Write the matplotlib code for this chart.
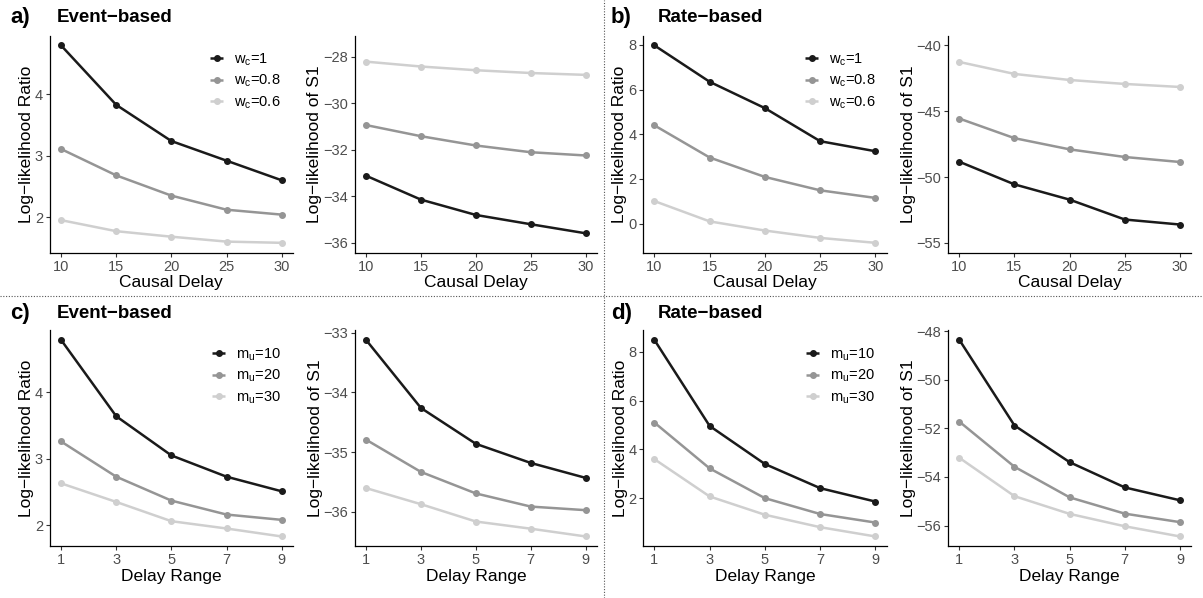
import matplotlib
matplotlib.use("Agg")
import matplotlib.pyplot as plt
from matplotlib.lines import Line2D

plt.rcParams['font.family'] = ['Liberation Sans', 'DejaVu Sans']

# x values
delay = [10, 15, 20, 25, 30]
delay_range = [1, 3, 5, 7, 9]

# a) event-based, varying causal strength w_c
a_llr_w1 = [4.80, 3.83, 3.24, 2.92, 2.60]
a_llr_w08 = [3.11, 2.68, 2.35, 2.12, 2.04]
a_llr_w06 = [1.95, 1.77, 1.68, 1.60, 1.58]
a_s1_w1 = [-33.11, -34.14, -34.80, -35.20, -35.59]
a_s1_w08 = [-30.93, -31.41, -31.81, -32.10, -32.24]
a_s1_w06 = [-28.20, -28.41, -28.57, -28.69, -28.77]

# b) rate-based, varying causal strength w_c
b_llr_w1 = [7.98, 6.35, 5.17, 3.69, 3.24]
b_llr_w08 = [4.40, 2.96, 2.09, 1.49, 1.15]
b_llr_w06 = [1.01, 0.10, -0.31, -0.64, -0.86]
b_s1_w1 = [-48.84, -50.56, -51.72, -53.23, -53.61]
b_s1_w08 = [-45.56, -47.05, -47.90, -48.48, -48.86]
b_s1_w06 = [-41.26, -42.17, -42.63, -42.93, -43.16]

# c) event-based, varying m_u
c_llr_m10 = [4.79, 3.64, 3.05, 2.73, 2.51]
c_llr_m20 = [3.26, 2.73, 2.37, 2.16, 2.08]
c_llr_m30 = [2.63, 2.35, 2.06, 1.95, 1.83]
c_s1_m10 = [-33.12, -34.26, -34.86, -35.18, -35.43]
c_s1_m20 = [-34.79, -35.33, -35.69, -35.91, -35.97]
c_s1_m30 = [-35.60, -35.87, -36.16, -36.28, -36.41]

# d) rate-based, varying m_u
d_llr_m10 = [8.49, 4.96, 3.40, 2.41, 1.86]
d_llr_m20 = [5.10, 3.22, 2.00, 1.35, 1.00]
d_llr_m30 = [3.60, 2.07, 1.32, 0.81, 0.43]
d_s1_m10 = [-48.35, -51.88, -53.39, -54.43, -54.96]
d_s1_m20 = [-51.72, -53.58, -54.84, -55.51, -55.86]
d_s1_m30 = [-53.21, -54.79, -55.52, -56.03, -56.45]

wc_labels = ['w$_\\mathregular{c}$=1', 'w$_\\mathregular{c}$=0.8', 'w$_\\mathregular{c}$=0.6']
mu_labels = ['m$_\\mathregular{u}$=10', 'm$_\\mathregular{u}$=20', 'm$_\\mathregular{u}$=30']
shades = ['#1a1a1a', '#959595', '#cfcfcf']

W, H = 1203, 598
fig = plt.figure(figsize=(W / 100, H / 100), dpi=100)

cols = [(50, 292.7), (355, 596.7), (643.3, 886.5), (948.3, 1191)]
rows = [(35.5, 252.7), (330, 546.3)]


def expand(lo, hi, f=0.05):
    d = (hi - lo) * f
    return lo - d, hi + d


def panel(col, row, x, series, xlabel, ylabel, yticks, ylim=None,
          labels=None, leg_xy=None):
    x0, x1 = cols[col]
    top, bot = rows[row]
    ax = fig.add_axes([x0 / W, 1 - bot / H, (x1 - x0) / W, (bot - top) / H])
    for ys, c, lab in zip(series[::-1], shades[::-1], (labels or [None] * 3)[::-1]):
        ax.plot(x, ys, color=c, lw=1.8, marker='o', ms=4, label=lab,
                solid_capstyle='butt')
    ax.set_xlim(*expand(min(x), max(x)))
    if ylim is None:
        allv = [v for s in series for v in s]
        ylim = (min(allv), max(allv))
    ax.set_ylim(*expand(*ylim))
    ax.set_xticks(x)
    ax.set_yticks(yticks)
    for s in ['top', 'right']:
        ax.spines[s].set_visible(False)
    for s in ['left', 'bottom']:
        ax.spines[s].set_linewidth(0.9)
    ax.tick_params(length=3, width=0.8, color='#333333', labelsize=10.5,
                   labelcolor='#4d4d4d', pad=2)
    ax.set_xlabel(xlabel, fontsize=12.5, labelpad=1)
    ax.set_ylabel(ylabel, fontsize=12.5, labelpad=0.5)
    if labels is not None:
        h, l = ax.get_legend_handles_labels()
        ax.legend(h[::-1], l[::-1], loc='center left',
                  bbox_to_anchor=(leg_xy[0] / W, 1 - leg_xy[1] / H),
                  bbox_transform=fig.transFigure, frameon=False,
                  fontsize=10.5, handlelength=0.9, handletextpad=0.75,
                  labelspacing=0.35, borderpad=0, borderaxespad=0)
    return ax


llr = 'Log\u2212likelihood Ratio'
s1 = 'Log\u2212likelihood of S1'

panel(0, 0, delay, [a_llr_w1, a_llr_w08, a_llr_w06], 'Causal Delay', llr,
      [2, 3, 4], labels=wc_labels, leg_xy=(210, 81))
panel(1, 0, delay, [a_s1_w1, a_s1_w08, a_s1_w06], 'Causal Delay', s1,
      [-36, -34, -32, -30, -28], ylim=(-36, -27.5))
panel(2, 0, delay, [b_llr_w1, b_llr_w08, b_llr_w06], 'Causal Delay', llr,
      [0, 2, 4, 6, 8], labels=wc_labels, leg_xy=(805, 81))
panel(3, 0, delay, [b_s1_w1, b_s1_w08, b_s1_w06], 'Causal Delay', s1,
      [-55, -50, -45, -40], ylim=(-55, -40))
panel(0, 1, delay_range, [c_llr_m10, c_llr_m20, c_llr_m30], 'Delay Range', llr,
      [2, 3, 4], labels=mu_labels, leg_xy=(212, 376))
panel(1, 1, delay_range, [c_s1_m10, c_s1_m20, c_s1_m30], 'Delay Range', s1,
      [-36, -35, -34, -33])
panel(2, 1, delay_range, [d_llr_m10, d_llr_m20, d_llr_m30], 'Delay Range', llr,
      [2, 4, 6, 8], labels=mu_labels, leg_xy=(806, 376))
panel(3, 1, delay_range, [d_s1_m10, d_s1_m20, d_s1_m30], 'Delay Range', s1,
      [-56, -54, -52, -50, -48])

# panel tags and titles
tags = [('a)', 'Event\u2212based', 10, 18), ('b)', 'Rate\u2212based', 611, 18),
        ('c)', 'Event\u2212based', 10, 313), ('d)', 'Rate\u2212based', 611, 313)]
for tag, title, tx, ty in tags:
    fig.text(tx / W, 1 - ty / H, tag, fontsize=16, fontweight='bold', va='center')
    fig.text((tx + 47) / W, 1 - ty / H, title, fontsize=13.5, fontweight='bold',
             va='center')

# dotted separators between the four blocks
fig.add_artist(Line2D([0, 1], [1 - 296 / H] * 2, transform=fig.transFigure,
                      color='#555555', lw=0.8, ls=(0, (1, 1.5))))
fig.add_artist(Line2D([604 / W] * 2, [0, 1], transform=fig.transFigure,
                      color='#555555', lw=0.8, ls=(0, (1, 1.5))))

fig.savefig('out.png', dpi=100)
